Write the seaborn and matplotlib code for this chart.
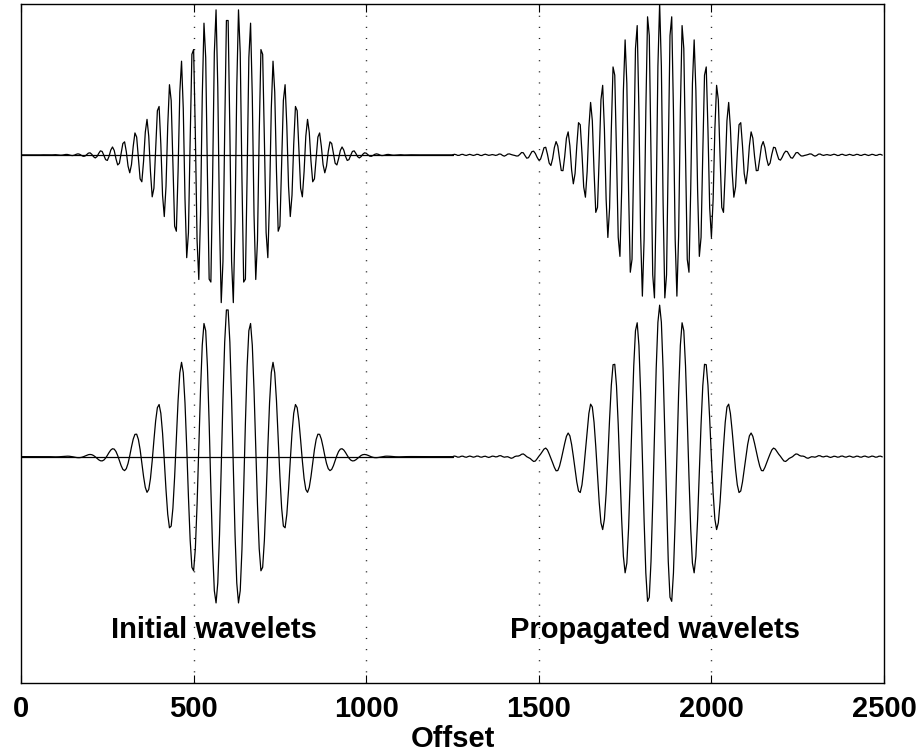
import numpy as np
import pandas as pd
import matplotlib
matplotlib.use("Agg")
import matplotlib.pyplot as plt
import seaborn as sns

# Wavelet parameters (offset units)
sample_step = 5.0                 # trace sampling interval
initial_span = (0.0, 1250.0)      # offsets covered by the initial traces
propagated_span = (1250.0, 2495.0)
initial_center = 597.5            # envelope centre of the initial wavelets
propagated_center = 1850.0        # envelope centre after propagation
envelope_sigma = 137.0            # Gaussian envelope width
wavelengths = [33.3, 66.6]        # short (upper trace) and long (lower trace) wavelets
trace_levels = [2.0, 0.0]         # vertical position of each trace
peak_amplitude = 1.0
ripple_amplitude = 0.004          # small numerical ripple on the propagated traces
ripple_wavelength = 22.0

x_ticks = [0, 500, 1000, 1500, 2000, 2500]
grid_offsets = [500, 1000, 1500, 2000]
labels = ["Initial wavelets", "Propagated wavelets"]
label_offsets = [560, 1838]
label_level = -1.2
x_limits = (0, 2500)
y_limits = (-1.5, 3.0)


def wavelet(x, center, wavelength, ripple=0.0):
    env = peak_amplitude * np.exp(-0.5 * ((x - center) / envelope_sigma) ** 2)
    sig = env * np.cos(2 * np.pi * (x - center) / wavelength)
    if ripple:
        sig = sig + ripple * np.cos(2 * np.pi * (x - center) / ripple_wavelength)
    return sig


frames = []
for k, (lam, level) in enumerate(zip(wavelengths, trace_levels)):
    xi = np.arange(initial_span[0], initial_span[1] + 0.1, sample_step)
    frames.append(pd.DataFrame({"Offset": xi,
                                "amp": level + wavelet(xi, initial_center, lam),
                                "trace": f"initial_{k}"}))
    xp = np.arange(propagated_span[0], propagated_span[1] + 0.1, sample_step)
    frames.append(pd.DataFrame({"Offset": xp,
                                "amp": level + wavelet(xp, propagated_center, lam,
                                                       ripple_amplitude),
                                "trace": f"propagated_{k}"}))
traces = pd.concat(frames, ignore_index=True)

# zero reference lines through the initial traces
zero_lines = pd.DataFrame({
    "Offset": [initial_span[0], initial_span[1]] * len(trace_levels),
    "amp": np.repeat(trace_levels, 2),
    "trace": np.repeat([f"zero_{k}" for k in range(len(trace_levels))], 2),
})

sns.set_theme(style="white")
plt.rcParams["font.family"] = ["Liberation Sans", "DejaVu Sans"]
plt.rcParams["font.weight"] = "bold"
plt.rcParams["lines.scale_dashes"] = False
for key in ("text.color", "axes.labelcolor", "xtick.color", "ytick.color",
            "axes.edgecolor"):
    plt.rcParams[key] = "black"

fig = plt.figure(figsize=(9.22, 7.56), dpi=100)
ax = fig.add_axes([0.0228, 0.0966, 0.9360, 0.8981])

for xg in grid_offsets:
    ax.axvline(xg, color="#222222", lw=1.0, linestyle=(0, (0.8, 7.2)), zorder=1)

sns.lineplot(data=zero_lines, x="Offset", y="amp", units="trace", estimator=None,
             sort=False, color="black", lw=0.9, ax=ax, zorder=2)
sns.lineplot(data=traces, x="Offset", y="amp", units="trace", estimator=None,
             sort=False, color="black", lw=0.9, ax=ax, zorder=3)

for text, xo in zip(labels, label_offsets):
    ax.text(xo, label_level, text, ha="center", va="baseline",
            fontsize=21, fontweight="bold", color="black")

ax.set_xlim(*x_limits)
ax.set_ylim(*y_limits)
ax.set_xticks(x_ticks)
ax.set_xticklabels([str(t) for t in x_ticks], fontsize=21, fontweight="bold")
ax.set_yticks([])
ax.tick_params(axis="x", direction="in", length=6, width=0.8, pad=9,
               top=True, bottom=True, colors="black")
ax.set_xlabel("Offset", fontsize=21, fontweight="bold", labelpad=1, color="black")
ax.set_ylabel("")
for sp in ax.spines.values():
    sp.set_visible(True)
    sp.set_color("black")
    sp.set_linewidth(1.0)

fig.savefig("out.png", dpi=100, facecolor="white")
